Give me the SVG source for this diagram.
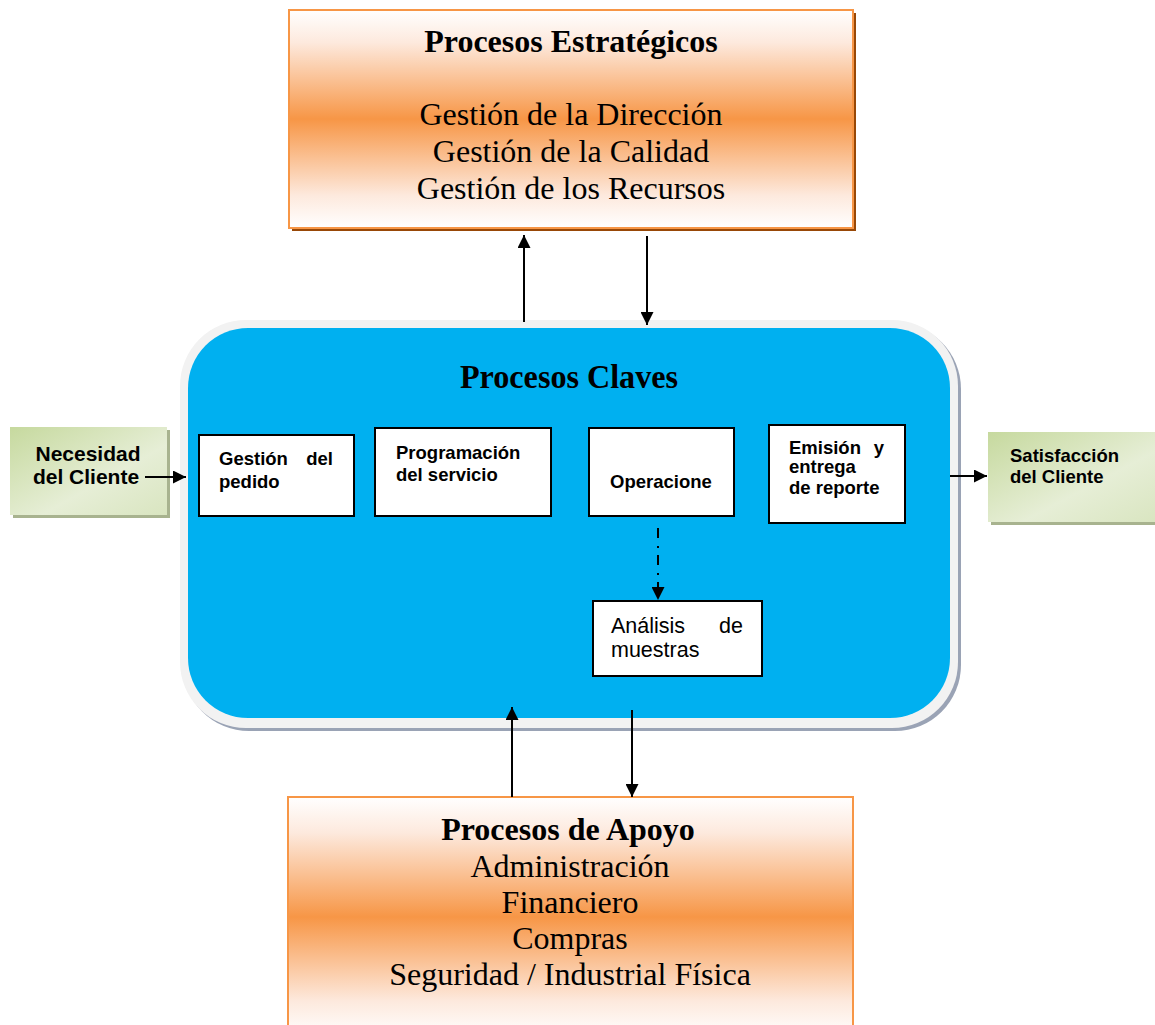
<svg xmlns="http://www.w3.org/2000/svg" width="1155" height="1025" viewBox="0 0 1155 1025">
<defs>
<linearGradient id="orange" x1="0" y1="0" x2="0" y2="1">
<stop offset="0" stop-color="#ffffff"/>
<stop offset="0.15" stop-color="#fde9dd"/>
<stop offset="0.5" stop-color="#f79646"/>
<stop offset="0.85" stop-color="#fde9dd"/>
<stop offset="1" stop-color="#ffffff"/>
</linearGradient>
<linearGradient id="green" x1="0" y1="0" x2="1" y2="1">
<stop offset="0" stop-color="#c6d99e"/>
<stop offset="0.6" stop-color="#e6eed6"/>
<stop offset="1" stop-color="#d9e5c0"/>
</linearGradient>
<marker id="arrL" viewBox="0 0 10 10" refX="10" refY="5" markerWidth="14" markerHeight="13" markerUnits="userSpaceOnUse" orient="auto">
<path d="M0,0 L10,5 L0,10 z" fill="#000"/>
</marker>
</defs>
<style>
.ser{font-family:"Liberation Serif","Times New Roman",serif;fill:#000}
.sans{font-family:"Liberation Sans",Arial,sans-serif;fill:#000}
.box{fill:#fff;stroke:#000;stroke-width:2}
.conn{stroke:#000;stroke-width:2;fill:none}
</style>

<rect width="1155" height="1025" fill="#fff"/>

<g id="procesos-estrategicos">
<rect x="292" y="13" width="564" height="218" fill="#984807"/>
<rect x="289" y="10" width="564" height="218" fill="url(#orange)" stroke="#f79646" stroke-width="2"/>
<text class="ser" x="571" y="52" font-size="32" font-weight="bold" text-anchor="middle">Procesos Estratégicos</text>
<text class="ser" x="571" y="125" font-size="32" text-anchor="middle">Gestión de la Dirección</text>
<text class="ser" x="571" y="162" font-size="32" text-anchor="middle">Gestión de la Calidad</text>
<text class="ser" x="571" y="199" font-size="32" text-anchor="middle">Gestión de los Recursos</text>
</g>

<g id="procesos-claves">
<rect x="183" y="323" width="778" height="408" rx="66" fill="#9aa3b5"/>
<rect x="180" y="320" width="778" height="408" rx="66" fill="#f2f2f2"/>
<rect x="188" y="328" width="762" height="390" rx="60" fill="#00b0f0"/>
<text class="ser" x="460" y="388" font-size="34" font-weight="bold" textLength="218" lengthAdjust="spacingAndGlyphs">Procesos Claves</text>
</g>

<g id="gestion-pedido">
<rect class="box" x="199" y="435" width="155" height="81"/>
<text class="sans" font-size="18.5" font-weight="bold"><tspan x="219" y="465">Gestión</tspan><tspan x="333" y="465" text-anchor="end">del</tspan><tspan x="219" y="488">pedido</tspan></text>
</g>

<g id="programacion">
<rect class="box" x="375" y="428" width="176" height="88"/>
<text class="sans" font-size="18.5" font-weight="bold"><tspan x="396" y="459">Programación</tspan><tspan x="396" y="481">del servicio</tspan></text>
</g>

<g id="operacione">
<rect class="box" x="589" y="428" width="145" height="88"/>
<text class="sans" x="661" y="488" font-size="18.5" font-weight="bold" text-anchor="middle">Operacione</text>
</g>

<g id="emision">
<rect class="box" x="769" y="425" width="136" height="98"/>
<text class="sans" font-size="18.5" font-weight="bold"><tspan x="789" y="454">Emisión</tspan><tspan x="884" y="454" text-anchor="end">y</tspan><tspan x="789" y="473">entrega</tspan><tspan x="789" y="494">de reporte</tspan></text>
</g>

<g id="analisis">
<rect class="box" x="593" y="601" width="169" height="75"/>
<text class="sans" font-size="21.5"><tspan x="611" y="633">Análisis</tspan><tspan x="743" y="633" text-anchor="end">de</tspan><tspan x="611" y="657">muestras</tspan></text>
</g>

<g id="necesidad">
<rect x="13" y="430" width="157" height="88" fill="#a8b38f"/>
<rect x="10" y="427" width="157" height="88" fill="url(#green)"/>
<text class="sans" font-size="21" font-weight="bold" text-anchor="middle"><tspan x="88" y="461">Necesidad</tspan><tspan x="86" y="484">del Cliente</tspan></text>
</g>

<g id="satisfaccion">
<rect x="991" y="435" width="170" height="90" fill="#a8b38f"/>
<rect x="988" y="432" width="170" height="90" fill="url(#green)"/>
<text class="sans" font-size="18.5" font-weight="bold"><tspan x="1010" y="462">Satisfacción</tspan><tspan x="1010" y="483">del Cliente</tspan></text>
</g>

<g id="procesos-apoyo">
<rect x="288" y="797" width="565" height="240" fill="url(#orange)" stroke="#f79646" stroke-width="2"/>
<text class="ser" x="568" y="840" font-size="32" font-weight="bold" text-anchor="middle">Procesos de Apoyo</text>
<text class="ser" x="570" y="877" font-size="32" text-anchor="middle">Administración</text>
<text class="ser" x="570" y="913" font-size="32" text-anchor="middle">Financiero</text>
<text class="ser" x="570" y="949" font-size="32" text-anchor="middle">Compras</text>
<text class="ser" x="570" y="985" font-size="32" text-anchor="middle">Seguridad / Industrial Física</text>
</g>

<g id="connectors">
<line class="conn" x1="524" y1="322" x2="524" y2="235" marker-end="url(#arrL)"/>
<line class="conn" x1="647" y1="236" x2="647" y2="325" marker-end="url(#arrL)"/>
<line class="conn" x1="512" y1="797" x2="512" y2="707" marker-end="url(#arrL)"/>
<line class="conn" x1="632" y1="710" x2="632" y2="797" marker-end="url(#arrL)"/>
<line class="conn" x1="145" y1="477" x2="186" y2="477" marker-end="url(#arrL)"/>
<line class="conn" x1="950" y1="476" x2="987" y2="476" marker-end="url(#arrL)"/>
<line class="conn" x1="658" y1="528" x2="658" y2="600" stroke-dasharray="10,8,2,7" marker-end="url(#arrL)"/>
</g>
</svg>
